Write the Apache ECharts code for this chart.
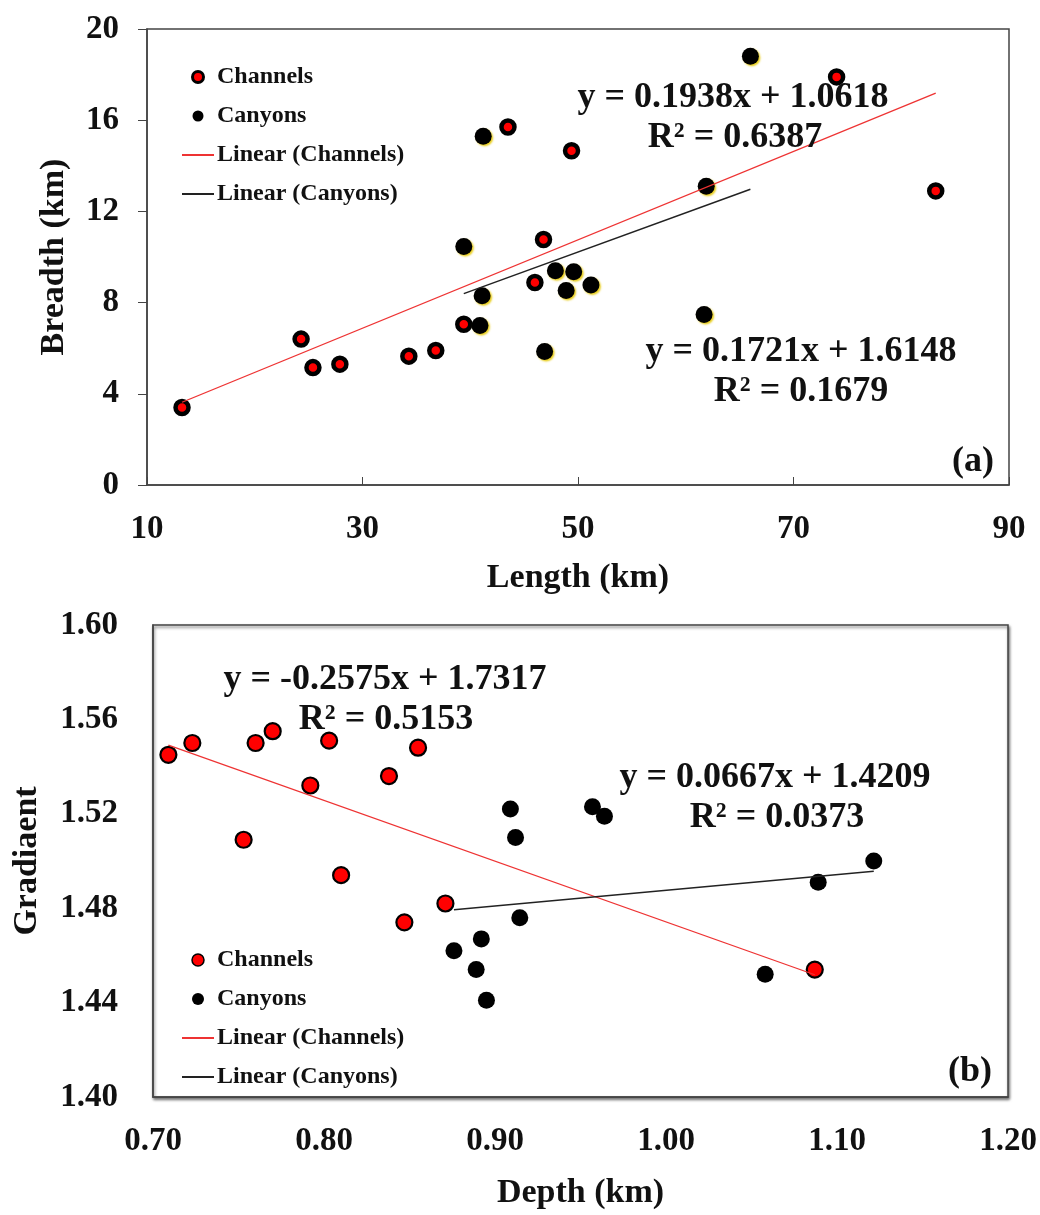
<!DOCTYPE html>
<html><head><meta charset="utf-8">
<script src="https://cdn.jsdelivr.net/npm/echarts@6/dist/echarts.min.js"></script>
<style>html,body{margin:0;padding:0;background:#fff;}#a{width:1040px;height:600px;}#b{width:1040px;height:615px;}</style>
</head><body>
<div id="a"></div><div id="b"></div>
<script>
// ---- Panel (a): Length vs Breadth ----
var channelLength  = [13.25, 24.3, 25.4, 27.9, 34.3, 36.8, 39.4, 43.5, 46.0, 46.8, 49.4, 74.0, 83.2];
var channelBreadth = [3.4, 6.4, 5.15, 5.3, 5.65, 5.9, 7.05, 15.7, 8.88, 10.77, 14.66, 17.9, 12.9];
var canyonLength   = [39.4, 40.9, 41.1, 41.2, 46.9, 47.9, 48.9, 49.6, 51.2, 61.7, 61.9, 66.0];
var canyonBreadth  = [10.46, 7.0, 8.3, 15.3, 5.86, 9.4, 8.53, 9.35, 8.77, 7.48, 13.1, 18.8];
var fitChannelsA = [0.1938, 1.0618];
var fitCanyonsA  = [0.1721, 1.6148];
var xTicksA = [10, 90, 20];
var yTicksA = [0, 20, 4];

// ---- Panel (b): Depth vs Gradient ----
var channelDepth = [0.709, 0.723, 0.753, 0.760, 0.770, 0.792, 0.803, 0.810, 0.838, 0.847, 0.855, 0.871, 1.087];
var channelGrad  = [1.545, 1.550, 1.509, 1.550, 1.555, 1.532, 1.551, 1.494, 1.536, 1.474, 1.548, 1.482, 1.454];
var canyonDepth  = [0.876, 0.889, 0.892, 0.895, 0.909, 0.912, 0.9145, 0.957, 0.964, 1.058, 1.089, 1.1215];
var canyonGrad   = [1.462, 1.454, 1.467, 1.441, 1.522, 1.510, 1.476, 1.523, 1.519, 1.452, 1.491, 1.500];
var fitChannelsB = [-0.2575, 1.7317];
var fitCanyonsB  = [0.0667, 1.4209];
var xTicksB = [0.70, 1.20, 0.10];
var yTicksB = [1.40, 1.60, 0.04];

var FONT = '"Liberation Serif","Times New Roman",serif';

function pts(xs, ys){ return xs.map(function(x,i){ return [x, ys[i]]; }); }
function fitLine(xs, fit){
  var lo = Math.min.apply(null, xs), hi = Math.max.apply(null, xs);
  return [[lo, fit[0]*lo + fit[1]], [hi, fit[0]*hi + fit[1]]];
}
function txt(x, y, s, size){
  return {type:'text', x:x, y:y, z:100, style:{text:s, font:'bold '+size+'px '+FONT, fill:'#111', textAlign:'center', textVerticalAlign:'middle'}};
}
var axisText = {color:'#111', fontWeight:'bold', fontSize:33, fontFamily:FONT};
var nameText = {color:'#111', fontWeight:'bold', fontSize:34, fontFamily:FONT};
var legendText = {color:'#111', fontWeight:'bold', fontSize:24, fontFamily:FONT, padding:[0,0,0,-2]};

// ---------- Chart A ----------
var ca = echarts.init(document.getElementById('a'));
ca.setOption({
  animation:false,
  grid:{left:147, top:29, width:862, height:458, show:true, borderColor:'#444', borderWidth:1.5, backgroundColor:'#fff'},
  legend:{
    orient:'vertical', left:181, top:65, padding:0, itemWidth:32, itemHeight:11, itemGap:15,
    textStyle:legendText,
    data:[
      {name:'Channels', itemStyle:{borderWidth:3}},
      {name:'Canyons'},
      {name:'Linear (Channels)', itemStyle:{opacity:0}},
      {name:'Linear (Canyons)', itemStyle:{opacity:0}}
    ]
  },
  xAxis:{type:'value', min:xTicksA[0], max:xTicksA[1], interval:xTicksA[2],
    name:'Length (km)', nameLocation:'middle', nameGap:76, nameTextStyle:nameText,
    axisLine:{show:true, lineStyle:{color:'#444', width:1.5}},
    axisTick:{show:true, inside:true, length:8, lineStyle:{color:'#444'}},
    axisLabel:Object.assign({margin:28}, axisText),
    splitLine:{show:false}},
  yAxis:{type:'value', min:yTicksA[0], max:yTicksA[1], interval:yTicksA[2],
    name:'Breadth (km)', nameLocation:'middle', nameGap:76, nameTextStyle:nameText,
    axisLine:{show:true, lineStyle:{color:'#444', width:1.5}},
    axisTick:{show:true, inside:false, length:9, lineStyle:{color:'#444'}},
    axisLabel:Object.assign({margin:28}, axisText),
    splitLine:{show:false}},
  series:[
    {name:'Channels', type:'scatter', data:pts(channelLength, channelBreadth), symbol:'circle', symbolSize:13,
     itemStyle:{color:'#ff0000', borderColor:'#000', borderWidth:4.5, opacity:1}},
    {name:'Canyons', type:'scatter', data:pts(canyonLength, canyonBreadth), symbol:'circle', symbolSize:17,
     itemStyle:{color:'#000', opacity:1, shadowColor:'rgba(230,200,0,0.9)', shadowOffsetX:1.5, shadowOffsetY:1.5, shadowBlur:2}},
    {name:'Linear (Channels)', type:'line', data:fitLine(channelLength, fitChannelsA), symbol:'none',
     itemStyle:{color:'#ee3333'}, lineStyle:{color:'#ee3333', width:1.3}, z:5},
    {name:'Linear (Canyons)', type:'line', data:fitLine(canyonLength, fitCanyonsA), symbol:'none',
     itemStyle:{color:'#222'}, lineStyle:{color:'#222', width:1.5}, z:5}
  ],
  graphic:[
    txt(733, 98, 'y = 0.1938x + 1.0618', 36),
    txt(735, 138, 'R² = 0.6387', 36),
    txt(801, 352, 'y = 0.1721x + 1.6148', 36),
    txt(801, 392, 'R² = 0.1679', 36),
    txt(973, 462, '(a)', 36)
  ]
});

// ---------- Chart B ----------
var cb = echarts.init(document.getElementById('b'));
cb.setOption({
  animation:false,
  grid:{left:153, top:25, width:855, height:472, show:true, borderColor:'#444', borderWidth:1.5, backgroundColor:'#fff',
        shadowColor:'rgba(0,0,0,0.55)', shadowOffsetX:1, shadowOffsetY:2, shadowBlur:3},
  legend:{
    orient:'vertical', left:181, top:348, padding:0, itemWidth:32, itemHeight:12, itemGap:15,
    textStyle:legendText,
    data:[
      {name:'Channels', itemStyle:{borderWidth:1.5}},
      {name:'Canyons'},
      {name:'Linear (Channels)', itemStyle:{opacity:0}},
      {name:'Linear (Canyons)', itemStyle:{opacity:0}}
    ]
  },
  xAxis:{type:'value', min:xTicksB[0], max:xTicksB[1], interval:xTicksB[2],
    name:'Depth (km)', nameLocation:'middle', nameGap:79, nameTextStyle:nameText,
    axisLine:{show:true, lineStyle:{color:'#444', width:1.5}},
    axisTick:{show:false},
    axisLabel:Object.assign({margin:28, formatter:function(v){return v.toFixed(2);}}, axisText),
    splitLine:{show:false}},
  yAxis:{type:'value', min:yTicksB[0], max:yTicksB[1], interval:yTicksB[2],
    name:'Gradiaent', nameLocation:'middle', nameGap:109, nameTextStyle:nameText,
    axisLine:{show:true, lineStyle:{color:'#444', width:1.5}},
    axisTick:{show:false},
    axisLabel:Object.assign({margin:35, formatter:function(v){return v.toFixed(2);}}, axisText),
    splitLine:{show:false}},
  series:[
    {name:'Channels', type:'scatter', data:pts(channelDepth, channelGrad), symbol:'circle', symbolSize:16,
     itemStyle:{color:'#ff0000', borderColor:'#000', borderWidth:2.2, opacity:1}},
    {name:'Canyons', type:'scatter', data:pts(canyonDepth, canyonGrad), symbol:'circle', symbolSize:17,
     itemStyle:{color:'#000', opacity:1}},
    {name:'Linear (Channels)', type:'line', data:fitLine(channelDepth, fitChannelsB), symbol:'none',
     itemStyle:{color:'#ee3333'}, lineStyle:{color:'#ee3333', width:1.3}, z:5},
    {name:'Linear (Canyons)', type:'line', data:fitLine(canyonDepth, fitCanyonsB), symbol:'none',
     itemStyle:{color:'#222'}, lineStyle:{color:'#222', width:1.5}, z:5}
  ],
  graphic:[
    txt(385, 80, 'y = -0.2575x + 1.7317', 36),
    txt(386, 120, 'R² = 0.5153', 36),
    txt(775, 178, 'y = 0.0667x + 1.4209', 36),
    txt(777, 218, 'R² = 0.0373', 36),
    txt(970, 472, '(b)', 36)
  ]
});
</script>
</body></html>
